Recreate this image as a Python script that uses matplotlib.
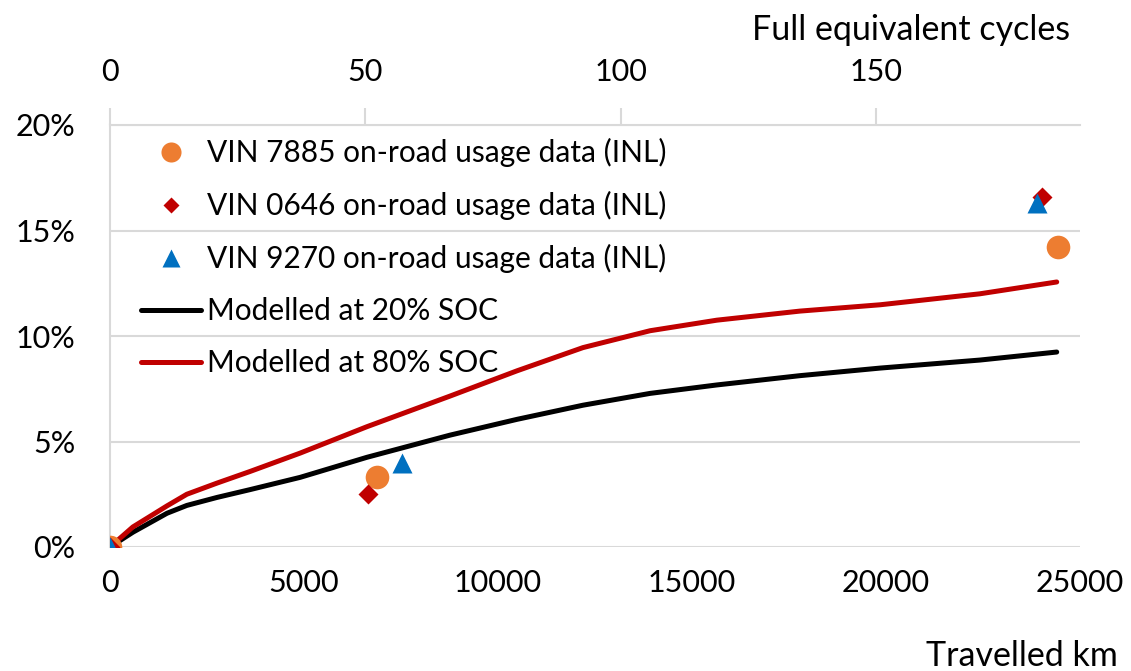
import matplotlib.pyplot as plt
from matplotlib.ticker import FuncFormatter

plt.rcParams['font.family'] = ['Lato', 'DejaVu Sans']

# km per full equivalent cycle (top axis)
KM_PER_CYCLE = 131.6

# on-road usage data (km, capacity fade)
vin7885_km = [0, 6880, 24430]
vin7885_fade = [0.0, 0.033, 0.142]
vin0646_km = [0, 6650, 24020]
vin0646_fade = [0.0, 0.025, 0.166]
vin9270_km = [0, 7520, 23890]
vin9270_fade = [0.0, 0.040, 0.163]

# modelled curves
model_km = [0, 590, 1470, 1980, 2760, 3610, 4900, 6620, 8760, 10490,
            12190, 13920, 15640, 17780, 19850, 22420, 24400]
model_20soc = [0.0, 0.007, 0.016, 0.0197, 0.0235, 0.0272, 0.033, 0.0425, 0.053, 0.0605,
               0.0672, 0.0728, 0.0768, 0.0812, 0.0848, 0.0886, 0.0924]
model_80soc = [0.0, 0.0095, 0.0195, 0.025, 0.0303, 0.0358, 0.0445, 0.057, 0.0715, 0.0835,
               0.0945, 0.1025, 0.1075, 0.1118, 0.1148, 0.120, 0.1256]

fig = plt.figure(figsize=(11.31, 6.71), dpi=100)
ax = fig.add_axes([110 / 1131, 1 - 547 / 671, 970 / 1131, 422 / 671])

grid_c = '#d9d9d9'
ax.plot(model_km, model_20soc, color='black', lw=3.6, solid_capstyle='round',
        solid_joinstyle='round', label='Modelled at 20% SOC', zorder=3)
ax.plot(model_km, model_80soc, color='#c00000', lw=3.6, solid_capstyle='round',
        solid_joinstyle='round', label='Modelled at 80% SOC', zorder=3)
ax.plot(vin7885_km, vin7885_fade, 'o', color='#ed7d31', ms=17, mec='none',
        label='VIN 7885 on-road usage data (INL)', zorder=4)
ax.plot(vin0646_km, vin0646_fade, 'D', color='#c00000', ms=10, mec='none',
        label='VIN 0646 on-road usage data (INL)', zorder=4)
ax.plot(vin9270_km, vin9270_fade, '^', color='#0070c0', ms=15, mec='none',
        label='VIN 9270 on-road usage data (INL)', zorder=5)

ax.set_xlim(0, 25000)
ax.set_ylim(0, 0.2)
ax.set_xticks(range(0, 25001, 5000))
ax.set_yticks([0, 0.05, 0.10, 0.15, 0.20])
ax.yaxis.set_major_formatter(FuncFormatter(lambda v, p: f'{v * 100:.0f}%'))
ax.grid(axis='y', color=grid_c, lw=1.5)
ax.set_axisbelow(True)
for s in ['top', 'right', 'bottom']:
    ax.spines[s].set_visible(False)
ax.spines['left'].set_color(grid_c)
ax.spines['left'].set_linewidth(1.5)
ax.tick_params(axis='both', length=0, labelsize=22, colors='black')
ax.tick_params(axis='x', pad=16)
ax.tick_params(axis='y', pad=25)

top = ax.secondary_xaxis('top', functions=(lambda k: k / KM_PER_CYCLE,
                                           lambda c: c * KM_PER_CYCLE))
top.set_xticks([0, 50, 100, 150])
top.spines['top'].set_color(grid_c)
top.spines['top'].set_linewidth(1.5)
top.tick_params(axis='x', length=12, width=1.5, color=grid_c, labelsize=22, pad=16)

fig.text(1070 / 1131, 1 - 30 / 671, 'Full equivalent cycles', ha='right', va='center', fontsize=24.5)
fig.text(1118 / 1131, 1 - 656 / 671, 'Travelled km', ha='right', va='center', fontsize=24.5)

handles, labels = ax.get_legend_handles_labels()
order = [2, 3, 4, 0, 1]
ax.legend([handles[i] for i in order], [labels[i] for i in order],
          loc='upper left', bbox_to_anchor=(0.02, 0.997), frameon=False,
          fontsize=21.5, handlelength=2.0, handletextpad=0.2, labelspacing=0.8,
          borderaxespad=0, markerscale=0.85)

fig.savefig('out.png', dpi=100)
